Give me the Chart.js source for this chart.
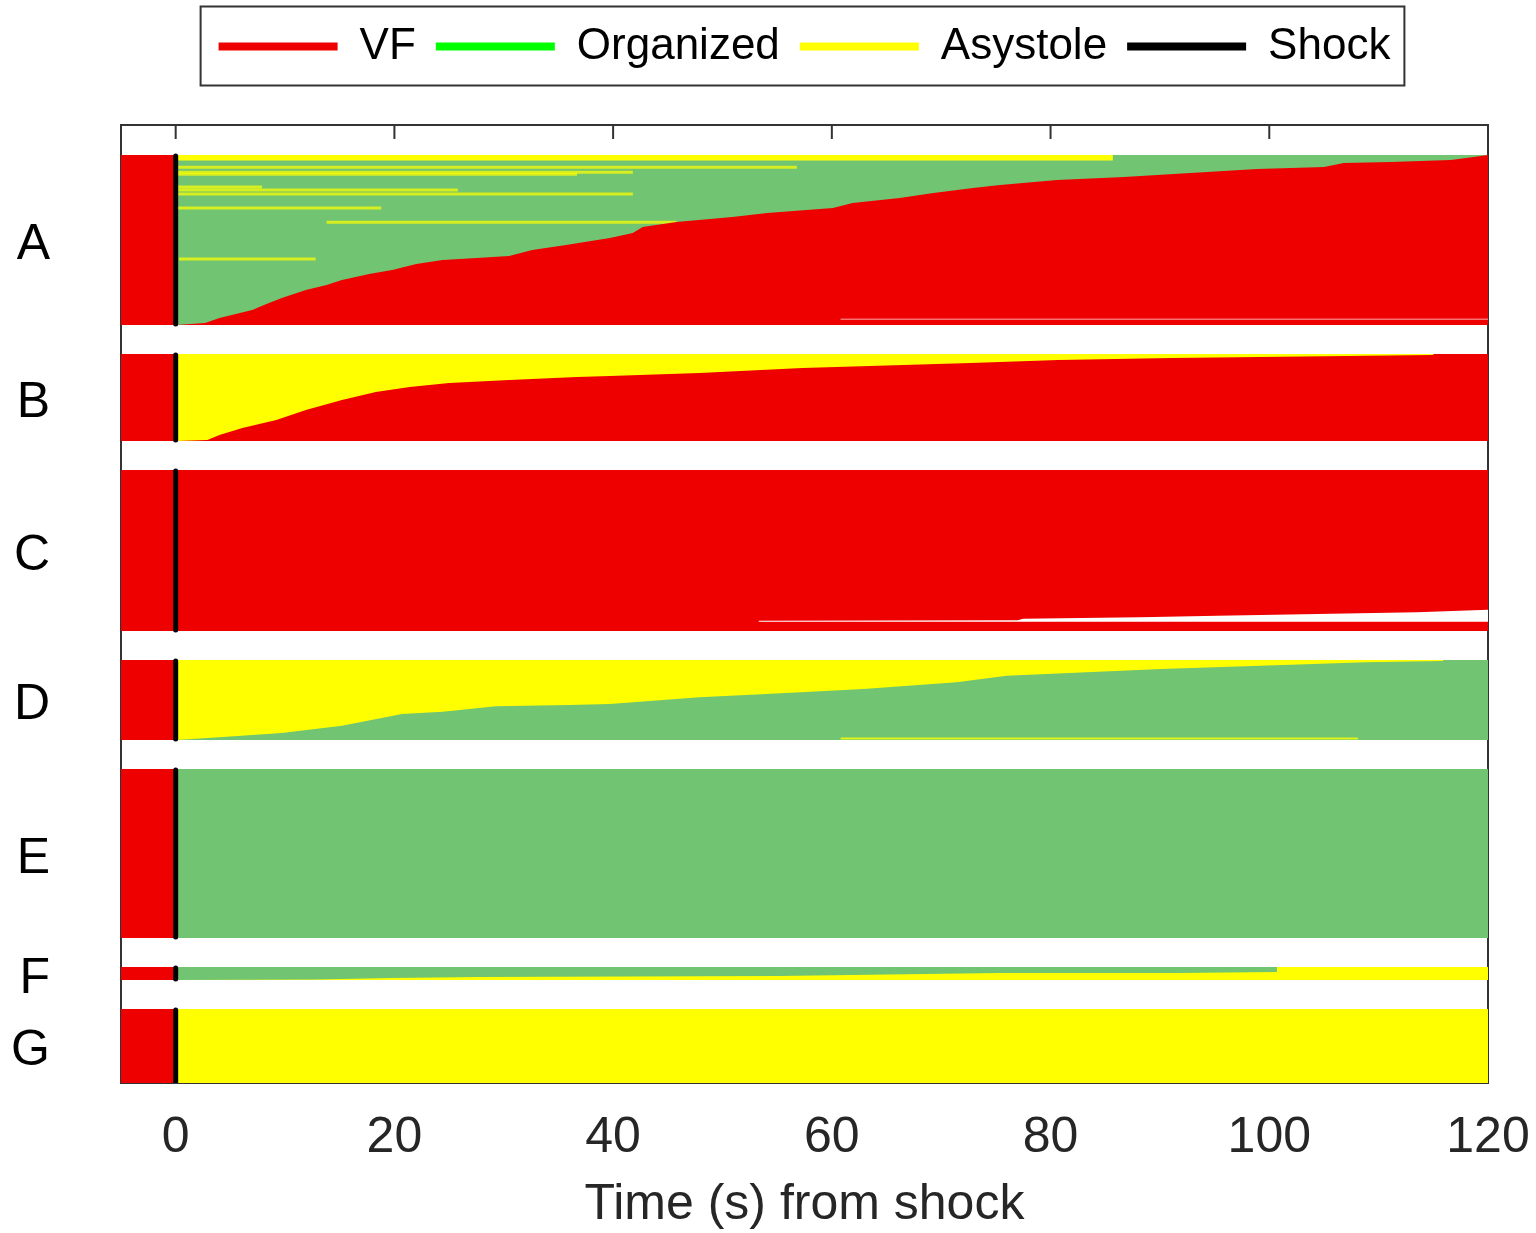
<!DOCTYPE html>
<html>
<head>
<meta charset="utf-8">
<script src="https://cdn.jsdelivr.net/npm/chart.js@4.4.1/dist/chart.umd.min.js"></script>
<style>
html,body{margin:0;padding:0;background:#fff;}
canvas{display:block;}
</style>
</head>
<body>
<canvas id="c" width="1536" height="1233"></canvas>
<script>
// ================= DATA =================
const xTicks = [0, 20, 40, 60, 80, 100, 120];
const groupLabels = ['A', 'B', 'C', 'D', 'E', 'F', 'G'];
const groupRows = [170, 87, 161, 80, 169, 13, 74];   // episodes (rows) per group
const preShockStart = -5;
const shockTime = 0;
const endTime = 120;

const legendNames = ['VF', 'Organized', 'Asystole', 'Shock'];

// Group A: number of rows in VF (counted from bottom of group) over time
const aVfTime = [0, 2.7, 4.0, 7.0, 8.3, 9.7, 11.9, 13.8, 15.2, 17.7, 19.8, 22.0, 24.4, 27.5, 30.5, 32.6, 35.7, 39.7, 41.8, 42.7, 45.8, 50.9, 54.1, 60.1, 61.9, 66.2, 69.3, 72.9, 75.4, 80.6, 86.7, 92.8, 98.9, 105.0, 106.8, 111.1, 116.6, 118.7, 120];
const aVfRows = [0, 2, 7, 15, 21, 27, 35, 40, 45, 51, 55, 61, 65, 67, 69, 75, 80, 87, 92, 98, 103, 108, 112, 117, 122, 127, 132, 137, 140, 145, 148, 152, 156, 158, 162, 163, 165, 168, 170];
// Group A: top rows in asystole until a given time
const aTopAsysRows = 5.5;
const aTopAsysEnd = 85.7;
// Group A: single asystole episodes (row from top of group, start, end)
const aAsysRow   = [12.3, 17.3, 19.3, 32, 35, 39, 53, 67.3, 104];
const aAsysStart = [0, 0, 0, 0, 0, 0, 0, 13.8, 0.3];
const aAsysEnd   = [56.8, 41.8, 36.7, 7.9, 25.8, 41.8, 18.8, 45.8, 12.8];
// Group A: row (from bottom) ending early (no data)
const aNoDataRow = 5.7;
const aNoDataStart = 60.8;

// Group B: rows in VF (from bottom) over time
const bVfTime = [0, 2.9, 4.0, 6.1, 9.2, 11.9, 15.2, 18.3, 21.4, 25.0, 30.5, 36.7, 39.7, 47.9, 57.3, 72.7, 80.7, 91.1, 115.0, 115.0, 120];
const bVfRows = [0, 1, 6, 13, 21, 31, 41, 49, 54, 58, 61, 64, 65, 68, 73, 78, 81, 83, 86, 87, 87];

// Group C: rows without data (from a base row above the bottom) over time
const cNoDataBaseRows = 9.3;
const cNoDataTime = [53.3, 77.0, 77.5, 88.2, 95.3, 113.5, 120];
const cNoDataRows = [1, 1.5, 3, 4.5, 6, 9.5, 12];

// Group D: rows organized (from bottom) over time
const dOrgTime = [0, 4.0, 9.7, 15.2, 20.7, 24.4, 29.3, 36.0, 39.7, 47.9, 54.0, 62.9, 71.4, 76.0, 90.1, 101.3, 108.8, 115.9, 115.9, 120];
const dOrgRows = [0, 2.7, 7, 14.3, 26, 28.3, 33.7, 35, 36, 42.7, 46, 51, 57.7, 64.3, 71, 75, 77.7, 79, 80, 80];
const dAsysRowFromBottom = 1.5;
const dAsysStart = 60.8;
const dAsysEnd = 108.1;

// Group F: rows in asystole (from bottom) over time
const fAsysTime = [0, 12.8, 19.8, 27.8, 55.0, 75.4, 91.6, 100.7, 100.7, 120];
const fAsysRows = [0, 0.5, 2, 3, 4, 7, 7, 8, 13, 13];

// ================= STYLE =================
const FONT = '"Liberation Sans", Arial, Helvetica, sans-serif';
const C_VF = '#ee0000';
const C_ORG = '#70c472';
const C_ASY = '#ffff00';
const C_SHOCK = '#000000';
const legendColors = ['#ee0000', '#00ff00', '#ffff00', '#000000'];
const BLANK_ROWS = 29, TOP_BLANK = 30, LABEL_SHIFT = 5.5;

const gTop = [], gBot = [];
let cur = TOP_BLANK;
groupRows.forEach(n => { gTop.push(cur); gBot.push(cur + n); cur += n + BLANK_ROWS; });
const yMax = gBot[gBot.length - 1];

const datasets = [];
function area(label, pts, base, color, order) {
  datasets.push({
    label, data: pts, fill: { value: base }, backgroundColor: color,
    borderColor: 'rgba(0,0,0,0)', borderWidth: 0, pointRadius: 0, order, tension: 0
  });
}
function seg(label, x0, x1, y0, y1, color, width, order, cap) {
  datasets.push({
    label, data: [{ x: x0, y: y0 }, { x: x1, y: y1 }], fill: false,
    borderColor: color, borderWidth: width, borderCapStyle: cap || 'butt',
    pointRadius: 0, order
  });
}
function band(gi, t0, t1, color, order) {
  area(groupLabels[gi], [{ x: t0, y: gTop[gi] }, { x: t1, y: gTop[gi] }], gBot[gi], color, order);
}
function fromBottom(gi, times, rows, color, order) {
  area(groupLabels[gi], times.map((t, i) => ({ x: t, y: gBot[gi] - rows[i] })), gBot[gi], color, order);
}

// base states after shock
band(0, shockTime, endTime, C_ORG, 50);
band(1, shockTime, endTime, C_ASY, 50);
band(2, shockTime, endTime, C_VF, 50);
band(3, shockTime, endTime, C_ASY, 50);
band(4, shockTime, endTime, C_ORG, 50);
band(5, shockTime, endTime, C_ORG, 50);
band(6, shockTime, endTime, C_ASY, 50);

// group A details
area('A asystole', [{ x: shockTime, y: gTop[0] }, { x: aTopAsysEnd, y: gTop[0] }], gTop[0] + aTopAsysRows, C_ASY, 45);
aAsysRow.forEach((r, i) => seg('A asystole', aAsysStart[i], aAsysEnd[i], gTop[0] + r, gTop[0] + r, 'rgba(255,255,0,0.72)', 3, 40));
fromBottom(0, aVfTime, aVfRows, C_VF, 30);
seg('A no data', aNoDataStart, endTime, gBot[0] - aNoDataRow, gBot[0] - aNoDataRow, 'rgba(255,255,255,0.45)', 1.5, 20);

// group B
fromBottom(1, bVfTime, bVfRows, C_VF, 30);

// group C: no-data wedge
const cBase = gBot[2] - cNoDataBaseRows;
area('C no data', cNoDataTime.map((t, i) => ({ x: t, y: cBase - cNoDataRows[i] })), cBase, '#ffffff', 30);

// group D
fromBottom(3, dOrgTime, dOrgRows, C_ORG, 30);
seg('D asystole', dAsysStart, dAsysEnd, gBot[3] - dAsysRowFromBottom, gBot[3] - dAsysRowFromBottom, 'rgba(255,255,0,0.8)', 2, 20);

// group F
fromBottom(5, fAsysTime, fAsysRows, C_ASY, 30);

// pre-shock VF and shock markers for every group
groupLabels.forEach((g, gi) => {
  band(gi, preShockStart, shockTime, C_VF, 10);
  seg('Shock ' + g, shockTime, shockTime, gTop[gi] + 1, gBot[gi] - 1, C_SHOCK, 5, 0, 'round');
});

// ================= PLUGINS =================
const legendShift = {
  id: 'legendShift',
  afterLayout(chart) {
    const lg = chart.legend, a = chart.chartArea;
    if (lg) { lg.left = a.left; lg.right = a.right; lg.width = a.right - a.left; }
  }
};
const frame = {
  id: 'frame',
  beforeDatasetsDraw(chart) {
    const { ctx, chartArea: a, scales: { x } } = chart;
    ctx.save();
    ctx.strokeStyle = '#333333';
    ctx.lineWidth = 2;
    ctx.beginPath();
    ctx.rect(a.left, a.top, a.right - a.left, a.bottom - a.top);
    xTicks.forEach(v => {
      const px = x.getPixelForValue(v);
      ctx.moveTo(px, a.top); ctx.lineTo(px, a.top + 14);
    });
    ctx.stroke();
    ctx.restore();
  },
  afterDraw(chart) {
    const lg = chart.legend;
    if (!lg || !lg.legendHitBoxes || !lg.legendHitBoxes.length) return;
    const hb = lg.legendHitBoxes;
    const first = hb[0], last = hb[hb.length - 1];
    const cy = first.top + first.height / 2;
    const ctx = chart.ctx;
    ctx.save();
    ctx.strokeStyle = '#333333';
    ctx.lineWidth = 2;
    ctx.strokeRect(first.left - 18, cy - 40, (last.left + last.width + 14) - (first.left - 18), 79);
    ctx.restore();
  }
};

// ================= CHART =================
new Chart(document.getElementById('c'), {
  type: 'line',
  data: { datasets },
  options: {
    responsive: false,
    devicePixelRatio: 1,
    animation: false,
    events: [],
    layout: { padding: { top: 4.5, left: 0, right: 48, bottom: 0 } },
    plugins: {
      tooltip: { enabled: false },
      filler: { drawTime: 'beforeDatasetDraw' },
      legend: {
        position: 'top',
        labels: {
          usePointStyle: true,
          pointStyleWidth: 119,
          boxHeight: 8,
          padding: 20,
          color: '#000',
          font: { size: 44, family: FONT },
          generateLabels: () => legendNames.map((n, i) => ({
            text: n, fillStyle: legendColors[i], strokeStyle: legendColors[i],
            lineWidth: 8, pointStyle: 'line', lineCap: 'butt', hidden: false, fontColor: '#000'
          }))
        }
      }
    },
    scales: {
      x: {
        type: 'linear', position: 'bottom', min: preShockStart, max: endTime,
        afterFit(s) { s.height = 150; s.paddingLeft = 0; s.paddingRight = 0; },
        afterBuildTicks(s) { s.ticks = xTicks.map(v => ({ value: v })); },
        ticks: { font: { size: 50, family: FONT }, color: '#262626', padding: 25, autoSkip: false, maxRotation: 0 },
        grid: { display: false, drawTicks: false },
        border: { display: false },
        title: { display: true, text: 'Time (s) from shock', color: '#262626',
                 font: { size: 50, family: FONT, lineHeight: 1 }, padding: { top: 0, bottom: 3 } }
      },
      x2: {
        type: 'linear', position: 'top', display: true,
        afterFit(s) { s.height = 46.5; s.paddingLeft = 0; s.paddingRight = 0; },
        ticks: { display: false },
        grid: { display: false, drawTicks: false },
        border: { display: false }
      },
      y: {
        type: 'linear', position: 'left', reverse: true, min: 0, max: yMax,
        afterFit(s) { s.width = 121; s.paddingTop = 0; s.paddingBottom = 0; },
        afterBuildTicks(s) { s.ticks = groupLabels.map((l, i) => ({ value: (gTop[i] + gBot[i]) / 2 + LABEL_SHIFT })); },
        ticks: { callback: (v, i) => groupLabels[i], font: { size: 50, family: FONT }, color: '#000', padding: 71, autoSkip: false },
        grid: { display: false, drawTicks: false },
        border: { display: false }
      }
    }
  },
  plugins: [legendShift, frame]
});
</script>
</body>
</html>
